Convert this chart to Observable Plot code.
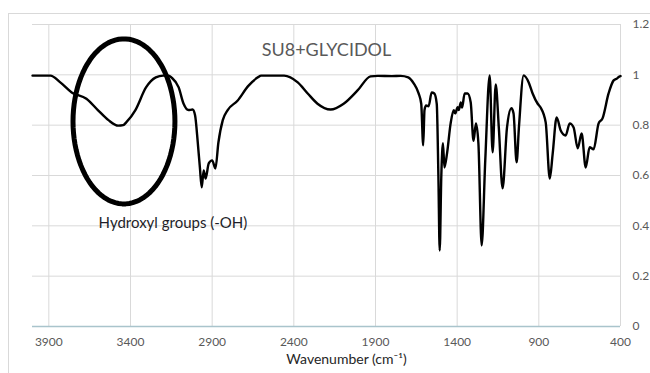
<!DOCTYPE html>
<html>
<head>
<meta charset="utf-8">
<script src="https://cdn.jsdelivr.net/npm/d3@7"></script>
<script src="https://cdn.jsdelivr.net/npm/@observablehq/plot@0.6"></script>
<style>
  html, body { margin: 0; padding: 0; background: #fff; }
  #wrap { position: relative; width: 650px; height: 373px; overflow: hidden; font-family: Lato, "Open Sans", sans-serif; }
  #border { position: absolute; left: 8px; top: 13px; width: 700px; height: 400px; border: 1px solid #d9d9d9; box-sizing: border-box; }
  #chart { position: absolute; left: 0; top: 0; }
</style>
</head>
<body>
<div id="wrap"><div id="border"></div><div id="chart"></div></div>
<script>
// Spectrum (wavenumber, cm-1) and transmittance
const wavenumber = [4000,3890,3830,3760,3670,3600,3535,3475,3445,3425,3370,3305,3245,3200,3165,3150,3105,3075,3045,3020,3005,2988,2975,2964,2952,2940,2921,2900,2880,2862,2835,2805,2745,2680,2620,2600,2460,2376,2315,2255,2175,2095,2010,1930,1886,1800,1746,1700,1666,1636,1620,1608,1600,1590,1575,1556,1540,1525,1515,1507,1497,1487,1478,1462,1440,1421,1412,1397,1390,1378,1370,1354,1336,1317,1300,1285,1270,1250,1228,1201,1183,1164,1145,1122,1095,1068,1055,1036,1022,993,962,938,907,890,858,833,815,791,766,736,711,687,662,638,613,589,565,534,510,473,442,420,405,400];
const transmittance = [0.997,0.997,0.97,0.93,0.905,0.86,0.82,0.798,0.80,0.812,0.86,0.95,0.99,0.997,0.997,0.99,0.95,0.885,0.86,0.862,0.84,0.73,0.63,0.553,0.62,0.588,0.648,0.66,0.628,0.73,0.82,0.86,0.897,0.955,0.99,0.997,0.997,0.97,0.926,0.885,0.862,0.885,0.938,0.994,0.996,0.995,0.996,0.99,0.966,0.926,0.885,0.72,0.86,0.878,0.875,0.93,0.926,0.885,0.6,0.302,0.6,0.728,0.632,0.688,0.807,0.859,0.847,0.871,0.86,0.89,0.87,0.926,0.926,0.89,0.738,0.807,0.728,0.322,0.66,0.998,0.692,0.962,0.79,0.549,0.79,0.867,0.847,0.652,0.79,0.998,0.97,0.926,0.885,0.871,0.811,0.588,0.688,0.831,0.779,0.759,0.807,0.791,0.708,0.767,0.632,0.712,0.704,0.807,0.827,0.926,0.978,0.986,0.994,0.995];

const xTicks = [3900, 3400, 2900, 2400, 1900, 1400, 900, 400];
const yTicks = [0, 0.2, 0.4, 0.6, 0.8, 1, 1.2];

const title = "SU8+GLYCIDOL";
const xLabel = "Wavenumber (cm\u207B\u00B9)";
const annotation = "Hydroxyl groups (-OH)";
// annotation ellipse: center (wavenumber, transmittance) and radii in data units
const ellipseCenter = [3440, 0.815];
const ellipseRadii = [312, 0.328];
const annotationPos = [3140, 0.41];

const spectrum = wavenumber.map((w, i) => ({w, t: transmittance[i]}));
const ellipse = d3.range(0, 361, 4).map(a => ({
  w: ellipseCenter[0] + ellipseRadii[0] * Math.cos(a * Math.PI / 180),
  t: ellipseCenter[1] + ellipseRadii[1] * Math.sin(a * Math.PI / 180)
}));

const chart = Plot.plot({
  width: 650,
  height: 373,
  marginLeft: 32,
  marginRight: 30,
  marginTop: 24,
  marginBottom: 47,
  style: {fontFamily: "Lato, 'Open Sans', sans-serif", background: "transparent"},
  x: {domain: [4000, 400]},
  y: {domain: [0, 1.2]},
  marks: [
    Plot.gridX(xTicks, {stroke: "#d9d9d9", strokeOpacity: 1, strokeWidth: 1}),
    Plot.gridY(yTicks, {stroke: "#d9d9d9", strokeOpacity: 1, strokeWidth: 1}),
    Plot.ruleY([0], {stroke: "#a9c4cc", strokeWidth: 1.5}),
    Plot.axisX(xTicks, {tickSize: 0, tickPadding: 11, fontSize: 12, fill: "#595959", label: null, tickFormat: d => String(d)}),
    Plot.axisY(yTicks, {anchor: "right", tickSize: 0, tickPadding: 12, fontSize: 12, fill: "#595959", label: null, tickFormat: d => String(d)}),
    Plot.line(spectrum, {x: "w", y: "t", stroke: "#000", strokeWidth: 2.4, curve: "monotone-x"}),
    Plot.line(ellipse, {x: "w", y: "t", stroke: "#000", strokeWidth: 5, curve: "linear"}),
    Plot.text([annotation], {x: annotationPos[0], y: annotationPos[1], text: d => d, fontSize: 15, fill: "#1e1e28"}),
    Plot.text([title], {frameAnchor: "top", dy: 19, dx: 0, text: d => d, fontSize: 18, fill: "#595959"}),
    Plot.text([xLabel], {frameAnchor: "bottom", dy: 37, dx: 20, text: d => d, fontSize: 14, fill: "#262626"})
  ]
});
document.getElementById("chart").appendChild(chart);
</script>
</body>
</html>
